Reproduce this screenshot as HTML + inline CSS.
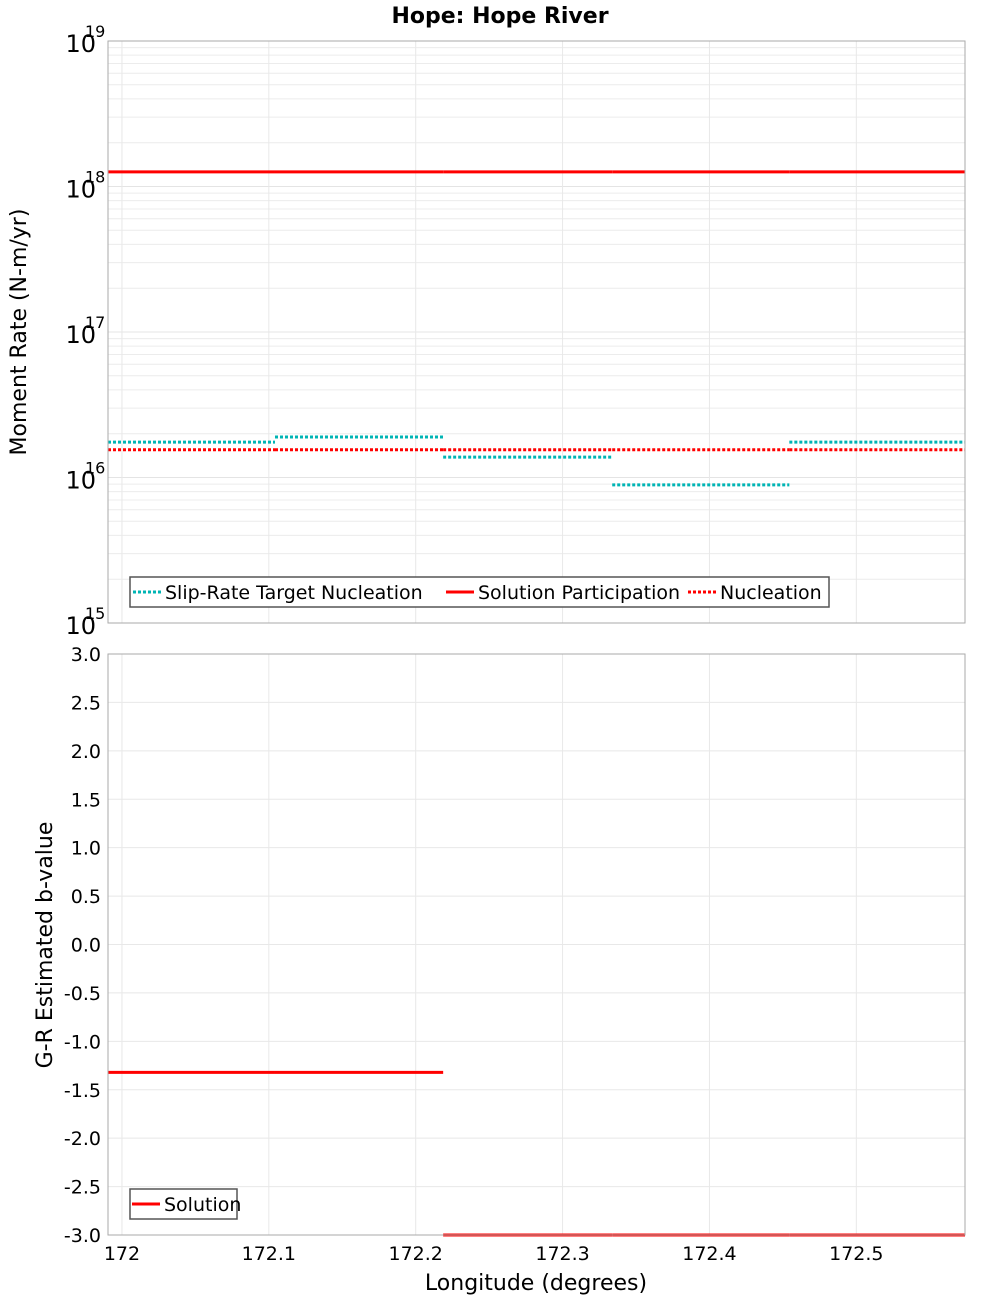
<!DOCTYPE html>
<html><head><meta charset="utf-8">
<style>
html,body{margin:0;padding:0;background:#fff;}
svg{display:block;font-family:"DejaVu Sans","Liberation Sans",sans-serif;}
</style></head>
<body>
<svg id="chart" width="1000" height="1300" viewBox="0 0 1000 1300">
<text x="500" y="23" text-anchor="middle" font-size="22" font-weight="bold">Hope: Hope River</text>
<g id="topPanel"></g>
<g id="botPanel"></g>
<text x="536" y="1290" text-anchor="middle" font-size="22">Longitude (degrees)</text>
<text transform="translate(26,332) rotate(-90)" text-anchor="middle" font-size="22">Moment Rate (N-m/yr)</text>
<text transform="translate(52,945) rotate(-90)" text-anchor="middle" font-size="22">G-R Estimated b-value</text>
</svg>
<script>
const segBounds = [171.9905, 172.1042, 172.2187, 172.3338, 172.4544, 172.574];
const slipTarget = [1.75e16, 1.9e16, 1.38e16, 8.9e15, 1.75e16];
const solutionParticipation = [1.26e18, 1.26e18, 1.26e18, 1.26e18, 1.26e18];
const nucleation = [1.55e16, 1.55e16, 1.55e16, 1.55e16, 1.55e16];
const bValues = [-1.32, -1.32, -3.0, -3.0, -3.0];
const xTicks = [172, 172.1, 172.2, 172.3, 172.4, 172.5];
const xTickLabels = ["172", "172.1", "172.2", "172.3", "172.4", "172.5"];
const logExps = [15, 16, 17, 18, 19];
const bTicks = [-3, -2.5, -2, -1.5, -1, -0.5, 0, 0.5, 1, 1.5, 2, 2.5, 3];

const NS = "http://www.w3.org/2000/svg";
const L = 108, R = 965;
const X0 = 171.9905, X1 = 172.574;
function xs(v){ return L + (v - X0) / (X1 - X0) * (R - L); }
const TT = 41, TB = 623;
function ylog(v){ return TB - (Math.log10(v) - 15) / 4 * (TB - TT); }
const BT = 654, BB = 1235;
function yb(v){ return BB - (v + 3) / 6 * (BB - BT); }

function mk(parent, tag, attrs){
  const e = document.createElementNS(NS, tag);
  for (const k in attrs) e.setAttribute(k, attrs[k]);
  parent.appendChild(e);
  return e;
}
const topG = document.getElementById("topPanel");
const botG = document.getElementById("botPanel");

for (let e = 15; e < 19; e++) {
  for (let m = 2; m <= 9; m++) {
    const y = ylog(m * Math.pow(10, e));
    const g = mk(topG, "line", {x1:L, x2:R, y1:y, y2:y, stroke:"#ececec", "stroke-width":1});
    
    
  }
}
logExps.forEach(e => {
  const y = ylog(Math.pow(10, e));
  const g = mk(topG, "line", {x1:L, x2:R, y1:y, y2:y, stroke:"#e4e4e4", "stroke-width":1});
  
  
  const t = mk(topG, "text", {x:96, y:y+11, "text-anchor":"end", "font-size":24});
  t.textContent = "10";
  
  
  const s = mk(topG, "text", {x:85, y:y-4, "font-size":16});
  s.textContent = String(e);
  
  
});
xTicks.forEach(v => {
  [topG, botG].forEach((p, i) => {
    const g = mk(p, "line", {x1:xs(v), x2:xs(v), y1:i?BT:TT, y2:i?BB:TB, stroke:"#e8e8e8", "stroke-width":1});
    
    
  });
});
bTicks.forEach(v => {
  const y = yb(v);
  const g = mk(botG, "line", {x1:L, x2:R, y1:y, y2:y, stroke:"#e8e8e8", "stroke-width":1});
  
  
  const t = mk(botG, "text", {x:101, y:y+7, "text-anchor":"end", "font-size":19});
  t.textContent = v.toFixed(1);
  
  
});
xTicks.forEach((v, i) => {
  const t = mk(botG, "text", {x:xs(v), y:1260, "text-anchor":"middle", "font-size":19});
  t.textContent = xTickLabels[i];
  
  
});

function steps(parent, vals, yfn, color, dash, name){
  vals.forEach((v, i) => {
    const a = {x1:xs(segBounds[i]), x2:xs(segBounds[i+1]), y1:yfn(v), y2:yfn(v), stroke:color, "stroke-width":3};
    if (dash) a["stroke-dasharray"] = dash;
    const l = mk(parent, "line", a);
    
    
  });
}
steps(topG, solutionParticipation, ylog, "#ff0000", null, "solution-participation-segment");
steps(topG, nucleation, ylog, "#ff0000", "3,2", "nucleation-segment");
steps(topG, slipTarget, ylog, "#00b4b4", "3,2", "slip-rate-target-segment");
steps(botG, bValues, yb, "#ff0000", null, "b-value-segment");

[[TT,TB,topG,"top-plot-frame"],[BT,BB,botG,"bottom-plot-frame"]].forEach(f => {
  const r = mk(f[2], "rect", {x:L, y:f[0], width:R-L, height:f[1]-f[0], fill:"none", stroke:"#aaa", "stroke-width":1});
  
  
});

function legend(parent, x, y, w, items, name){
  const g = mk(parent, "g", {});
  
  
  const r = mk(g, "rect", {x:x, y:y, width:w, height:30, fill:"#fff", stroke:"#555", "stroke-width":1.5});
  
  
  items.forEach(it => {
    const a = {x1:it[0], x2:it[0]+28, y1:y+15, y2:y+15, stroke:it[2], "stroke-width":3};
    if (it[3]) a["stroke-dasharray"] = "3,2";
    const l = mk(g, "line", a);
    
    
    const t = mk(g, "text", {x:it[0]+32, y:y+22, "font-size":19});
    t.textContent = it[1];
    
    
  });
}
legend(topG, 130, 577, 699, [[133,"Slip-Rate Target Nucleation","#00b4b4",true],[446,"Solution Participation","#ff0000",false],[688,"Nucleation","#ff0000",true]], "top-legend");
legend(botG, 130, 1189, 107, [[132,"Solution","#ff0000",false]], "bottom-legend");
</script>
</body></html>
